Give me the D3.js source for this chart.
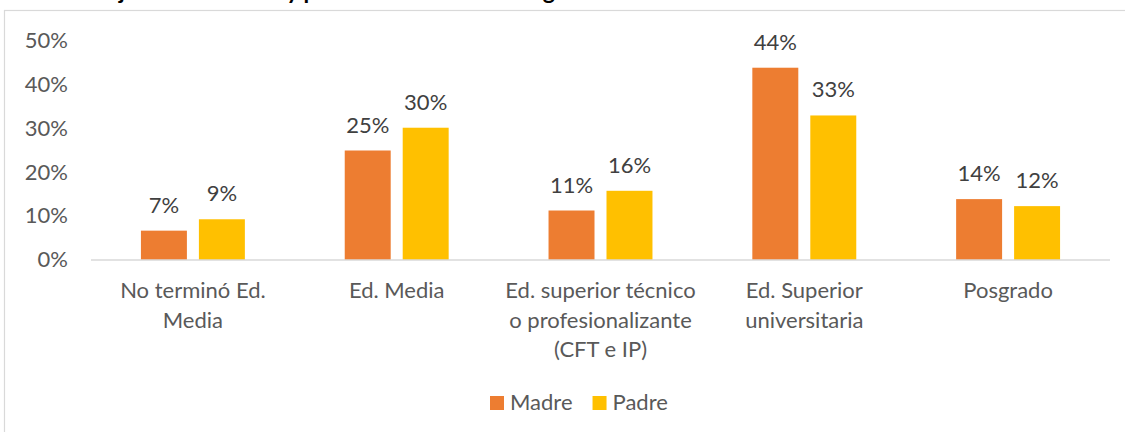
<!DOCTYPE html>
<html>
<head>
<meta charset="utf-8">
<script src="https://cdn.jsdelivr.net/npm/d3@7"></script>
<style>
  html, body { margin: 0; padding: 0; background: #fff; overflow: hidden; }
  svg { display: block; font-family: Lato, "Open Sans", sans-serif; }
</style>
</head>
<body>
<svg id="chart" width="1125" height="432"></svg>
<script>
// ---- data ----
const titleText = "Gráfico 2. Porcentaje de las madres y padres de la muestra según el nivel educacional más alto alcanzado";
const categories = [
  "No terminó Ed.\nMedia",
  "Ed. Media",
  "Ed. superior técnico\no profesionalizante\n(CFT e IP)",
  "Ed. Superior\nuniversitaria",
  "Posgrado"
];
const seriesNames = ["Madre", "Padre"];
const madre = [0.067, 0.250, 0.113, 0.439, 0.139];
const padre = [0.093, 0.302, 0.158, 0.330, 0.123];
const yTicks = [0, 0.1, 0.2, 0.3, 0.4, 0.5];
const colors = ["#ED7D31", "#FFC000"];

// ---- layout ----
const svg = d3.select("#chart");
const W = 1125, H = 432;
const plot = { left: 91, right: 1110, top: 41, bottom: 260 };
const FS = 22;

// chart area border (extends beyond right/bottom edges)
svg.append("rect")
  .attr("x", 4.5).attr("y", 10.5)
  .attr("width", W + 20).attr("height", H + 20)
  .attr("fill", "#fff").attr("stroke", "#D9D9D9").attr("stroke-width", 1.2);

// title (cut off at top, as in the reference)
const title = svg.append("text")
  .attr("y", -0.8)
  .attr("font-weight", "bold")
  .attr("font-size", 23)
  .attr("fill", "#000")
  .text(titleText);
{
  const node = title.node();
  const j = titleText.indexOf("j");
  const off = node.getSubStringLength(0, j) + node.getSubStringLength(j, 1) / 2;
  title.attr("x", 122 - off);
}

const x0 = d3.scaleBand().domain(d3.range(categories.length))
  .range([plot.left, plot.right]).paddingInner(0.49).paddingOuter(0.245);
const x1 = d3.scaleBand().domain(seriesNames)
  .range([0, x0.bandwidth()]).paddingInner(0.207).paddingOuter(0);
const y = d3.scaleLinear().domain([0, 0.5]).range([plot.bottom, plot.top]);

// y axis labels
const yAxis = d3.axisLeft(y).tickValues(yTicks).tickFormat(d3.format(".0%")).tickSize(0).tickPadding(0);
const yg = svg.append("g").attr("transform", "translate(68,0)").call(yAxis);
yg.select(".domain").remove();
yg.selectAll("text")
  .attr("font-family", "Lato, 'Open Sans', sans-serif")
  .attr("font-size", FS).attr("fill", "#595959")
  .attr("dy", "0.3em");

// bars
const data = [madre, padre];
const groups = svg.append("g").selectAll("g")
  .data(categories.map((c, i) => ({ i, vals: seriesNames.map((s, k) => ({ s, k, v: data[k][i] })) })))
  .join("g")
  .attr("transform", d => `translate(${x0(d.i)},0)`);

groups.selectAll("rect")
  .data(d => d.vals)
  .join("rect")
  .attr("x", d => x1(d.s))
  .attr("width", x1.bandwidth())
  .attr("y", d => y(d.v))
  .attr("height", d => y(0) - y(d.v))
  .attr("fill", d => colors[d.k]);

groups.selectAll("text.val")
  .data(d => d.vals)
  .join("text")
  .attr("class", "val")
  .attr("x", d => x1(d.s) + x1.bandwidth() / 2)
  .attr("y", d => y(d.v) - 18)
  .attr("text-anchor", "middle")
  .attr("font-size", FS)
  .attr("fill", "#404040")
  .text(d => d3.format(".0%")(d.v));

// x axis line
const xAxis = d3.axisBottom(x0).tickSize(0).tickFormat("");
const xg = svg.append("g").attr("transform", `translate(0,${plot.bottom})`).call(xAxis);
xg.select(".domain").attr("stroke", "#D9D9D9").attr("stroke-width", 1.5)
  .attr("d", `M${plot.left},0H${plot.right}`);

// category labels
xg.selectAll(".tick").each(function(d) {
  const t = d3.select(this).select("text");
  t.text(null).attr("y", 0).attr("dy", null)
    .attr("font-family", "Lato, 'Open Sans', sans-serif")
    .attr("font-size", FS).attr("fill", "#595959");
  categories[d].split("\n").forEach((line, li) => {
    t.append("tspan").attr("x", 0).attr("y", 38 + li * 29.5).text(line);
  });
});

// legend
const legend = svg.append("g").attr("transform", "translate(490,396)");
let lx = 0;
seriesNames.forEach((s, k) => {
  const g = legend.append("g").attr("transform", `translate(${lx},0)`);
  g.append("rect").attr("width", 14).attr("height", 14).attr("fill", colors[k]);
  const t = g.append("text").attr("x", 20).attr("y", 14)
    .attr("font-size", FS).attr("fill", "#595959").text(s);
  lx += 20 + t.node().getComputedTextLength() + 20;
});
</script>
</body>
</html>
